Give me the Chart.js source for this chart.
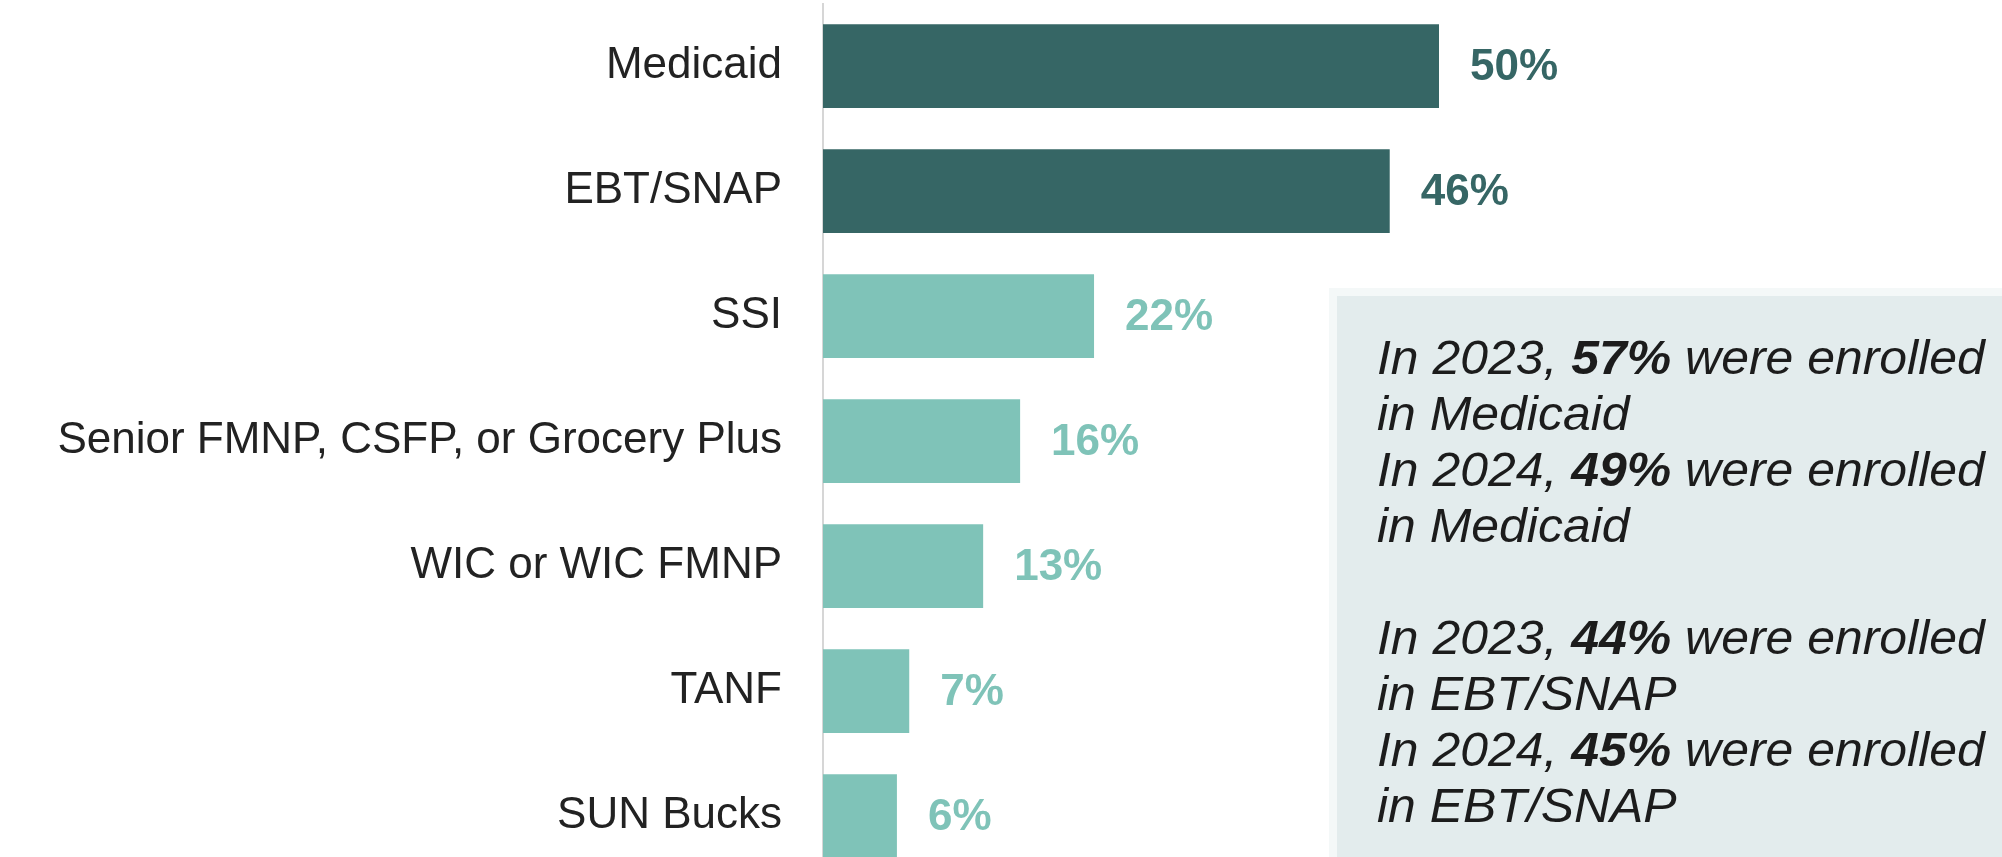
<!DOCTYPE html>
<html>
<head>
<meta charset="utf-8">
<script src="https://cdn.jsdelivr.net/npm/chart.js@4.4.1/dist/chart.umd.min.js"></script>
<style>
  html, body { margin: 0; padding: 0; background: #ffffff; overflow: hidden; }
  #wrap { position: relative; width: 2002px; height: 880px; }
</style>
</head>
<body>
<div id="wrap"><canvas id="c"></canvas></div>
<script>
// ---- data ----
const categories = ["Medicaid", "EBT/SNAP", "SSI", "Senior FMNP, CSFP, or Grocery Plus", "WIC or WIC FMNP", "TANF", "SUN Bucks"];
const values = [50, 46, 22, 16, 13, 7, 6];
const highlighted = [true, true, false, false, false, false, false];
// annotation lines: each line is a list of [text, bold] segments
const noteLines = [
  [["In 2023, ", false], ["57%", true], [" were enrolled", false]],
  [["in Medicaid", false]],
  [["In 2024, ", false], ["49%", true], [" were enrolled", false]],
  [["in Medicaid", false]],
  [],
  [["In 2023, ", false], ["44%", true], [" were enrolled", false]],
  [["in EBT/SNAP", false]],
  [["In 2024, ", false], ["45%", true], [" were enrolled", false]],
  [["in EBT/SNAP", false]]
];

const DARK = "#366665";
const LIGHT = "#7fc3b8";
const FONT = "'Liberation Sans', Arial, Helvetica, sans-serif";
const barColors = highlighted.map(h => h ? DARK : LIGHT);

const valueLabels = {
  id: "valueLabels",
  afterDatasetsDraw(chart) {
    const ctx = chart.ctx;
    const meta = chart.getDatasetMeta(0);
    ctx.save();
    ctx.font = "bold 44px " + FONT;
    ctx.textAlign = "left";
    ctx.textBaseline = "middle";
    meta.data.forEach((bar, i) => {
      ctx.fillStyle = barColors[i];
      ctx.fillText(values[i] + "%", bar.x + 31, bar.y + 2);
    });
    ctx.restore();
  }
};

const noteBox = {
  id: "noteBox",
  afterDraw(chart) {
    const ctx = chart.ctx;
    ctx.save();
    ctx.fillStyle = "#f4f8f8";
    ctx.fillRect(1329, 288, 700, 600);
    ctx.fillStyle = "#e3eced";
    ctx.fillRect(1337, 296, 700, 600);
    ctx.fillStyle = "#1c1c1c";
    ctx.textBaseline = "alphabetic";
    ctx.textAlign = "left";
    const sx = 1.04;
    let y = 374;
    noteLines.forEach(line => {
      let x = 1377;
      line.forEach(([txt, bold]) => {
        ctx.font = (bold ? "italic bold " : "italic ") + "48px " + FONT;
        ctx.save();
        ctx.translate(x, y);
        ctx.scale(sx, 1);
        ctx.fillText(txt, 0, 0);
        ctx.restore();
        x += ctx.measureText(txt).width * sx;
      });
      y += 56;
    });
    ctx.restore();
  }
};

new Chart(document.getElementById("c"), {
  type: "bar",
  data: {
    labels: categories,
    datasets: [{
      data: values,
      backgroundColor: barColors,
      borderWidth: 0,
      barPercentage: 0.67,
      categoryPercentage: 1.0
    }]
  },
  options: {
    indexAxis: "y",
    responsive: true,
    maintainAspectRatio: false,
    animation: false,
    events: [],
    layout: { padding: { top: 3.5, bottom: 1.5, left: 0, right: 193.4 } },
    plugins: { legend: { display: false }, tooltip: { enabled: false } },
    scales: {
      x: {
        min: 0, max: 80,
        display: false,
        grid: { display: false }
      },
      y: {
        grid: { display: false, drawTicks: false },
        border: { display: true, color: "#d6d6d6", width: 2 },
        ticks: {
          color: "#222222",
          font: { family: FONT, size: 44 },
          padding: 41
        },
        afterFit(scale) {
          scale.width = 823;
          scale.paddingTop = 0;
          scale.paddingBottom = 0;
        }
      }
    }
  },
  plugins: [valueLabels, noteBox]
});
</script>
</body>
</html>
